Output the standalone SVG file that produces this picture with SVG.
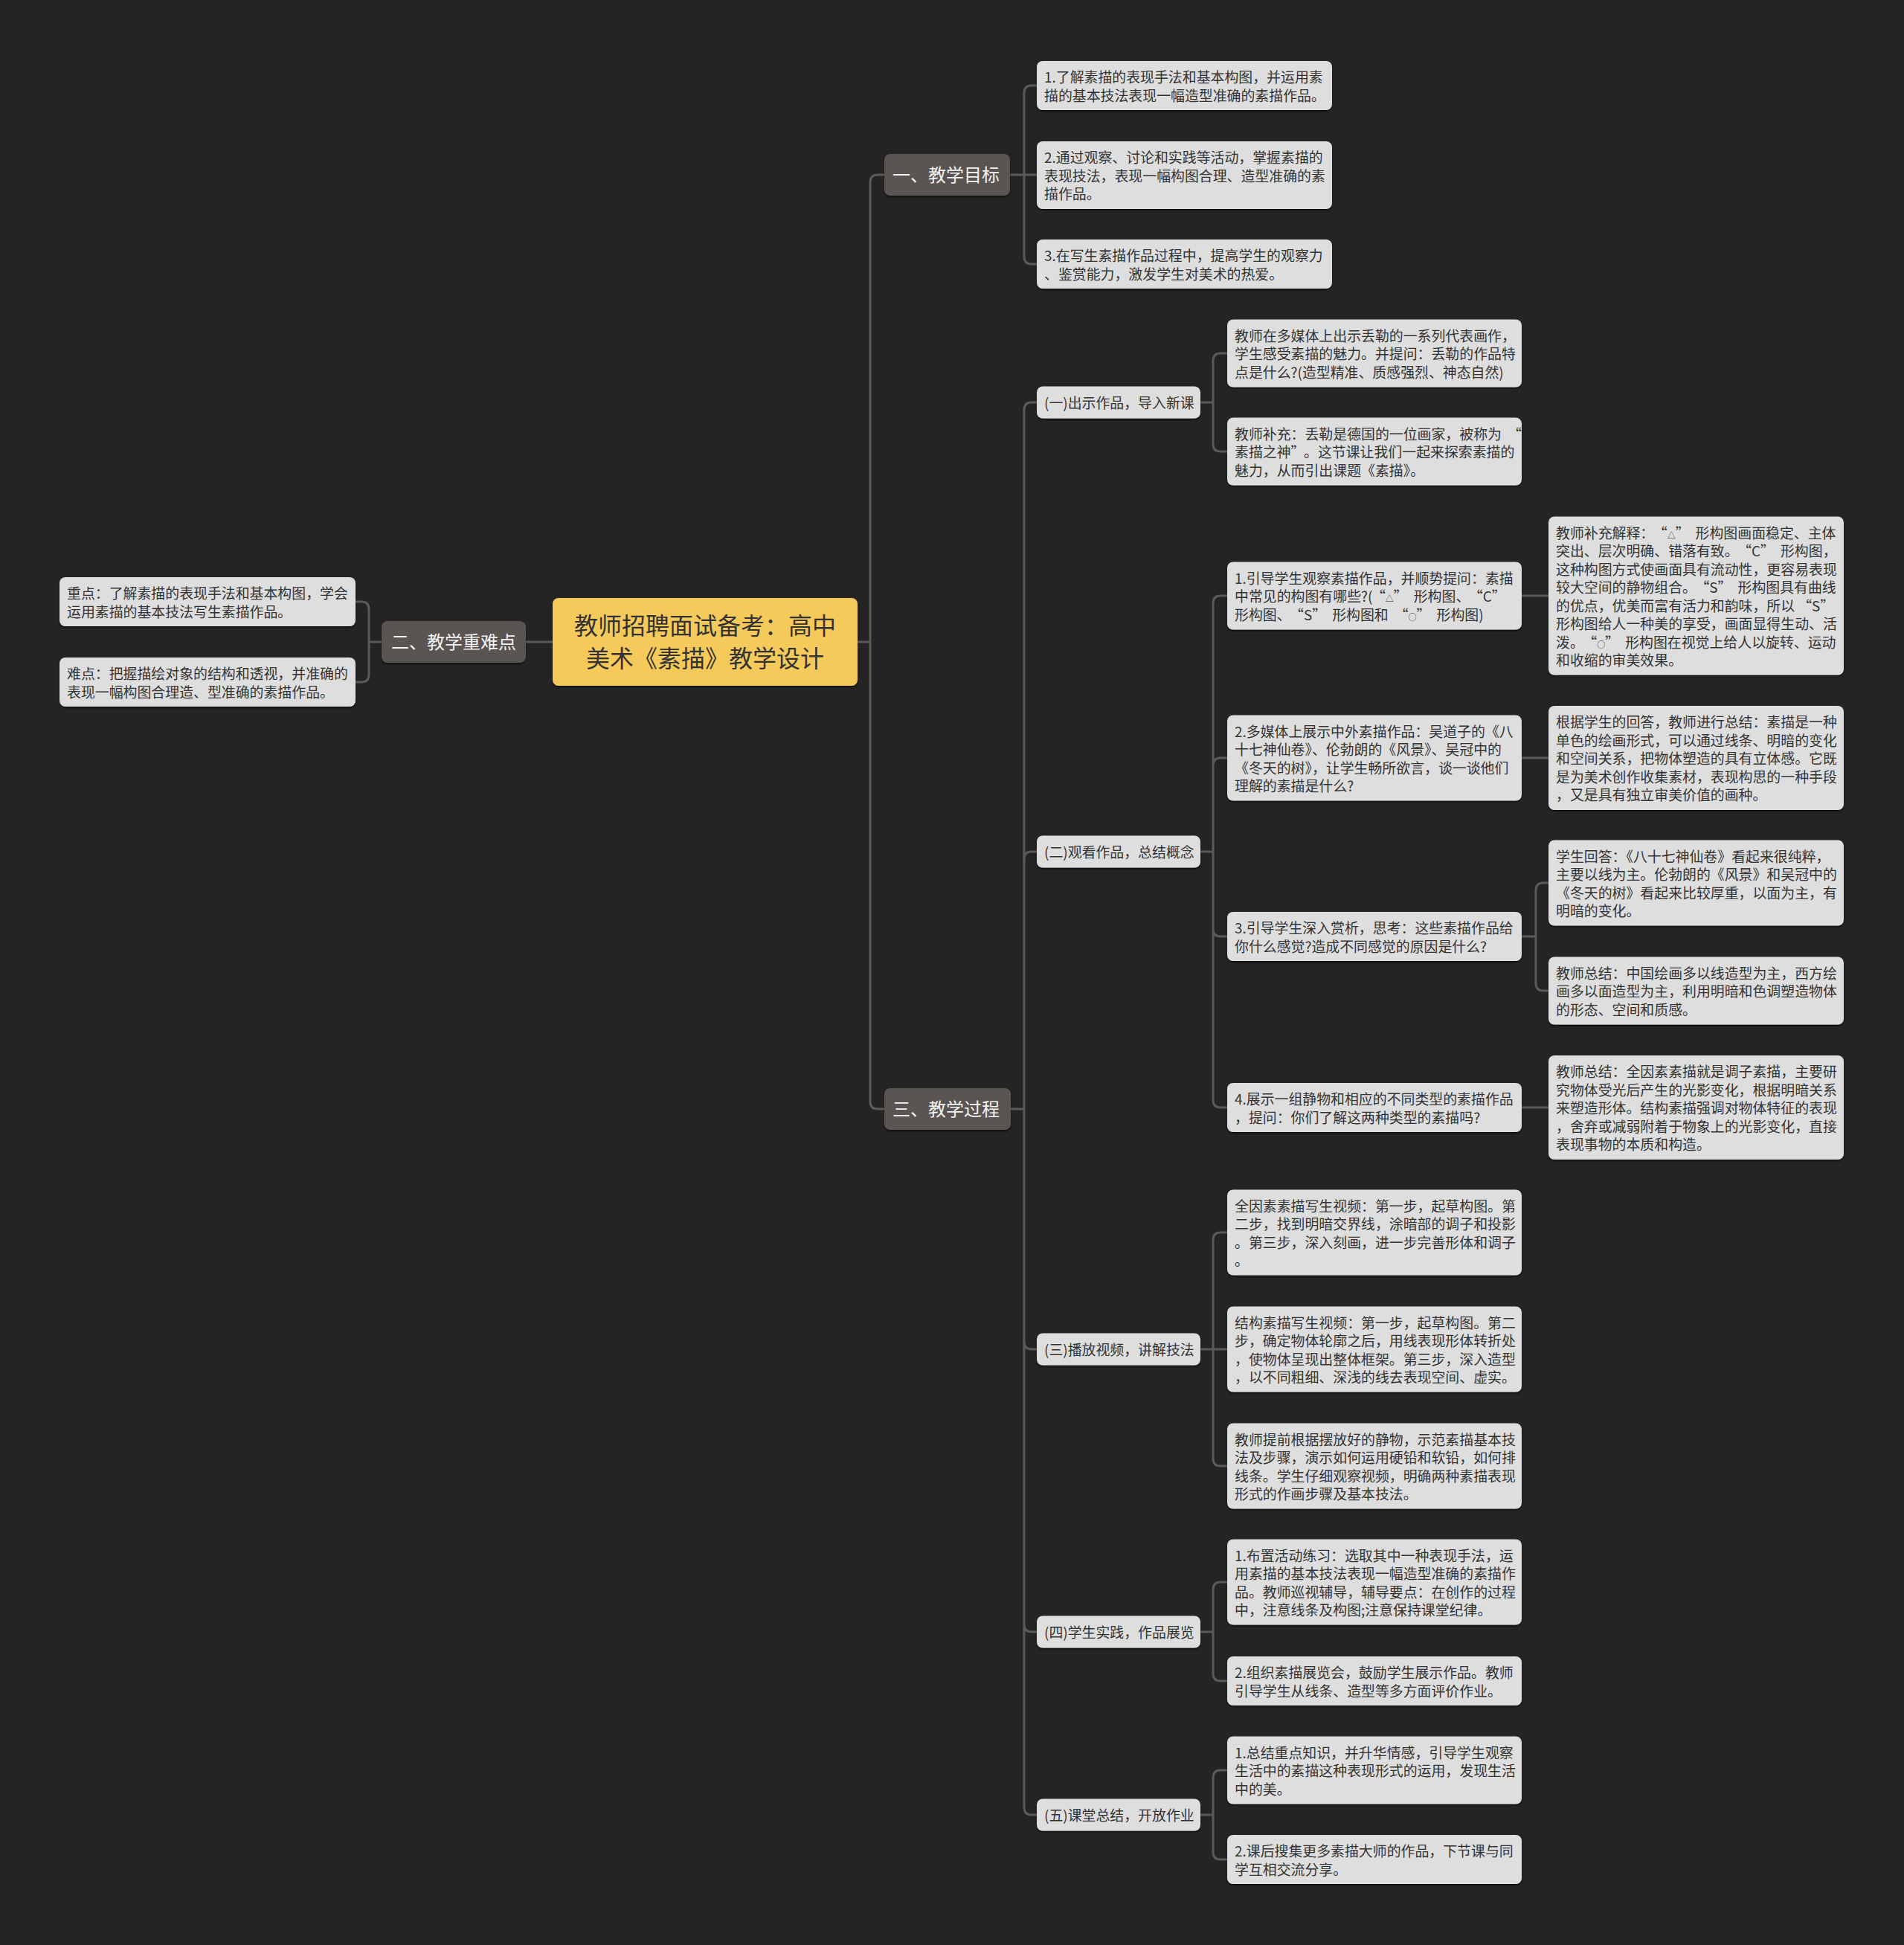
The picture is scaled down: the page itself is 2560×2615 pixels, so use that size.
<svg xmlns="http://www.w3.org/2000/svg" width="2560" height="2615" viewBox="0 0 2560 2615">
<defs>
<style>
.c{fill:none;stroke:#5c5a58;stroke-width:3;stroke-linecap:round}
.n{fill:#dedede}
.l1{fill:#5a5552}
.root{fill:#f5c95a}
.t{font-family:"Noto Sans CJK SC","Noto Sans",sans-serif;font-size:18.9px;fill:#333}
.t1{font-family:"Noto Sans CJK SC","Noto Sans",sans-serif;font-size:24px;fill:#f2f2f2}
.tr{font-family:"Noto Sans CJK SC","Noto Sans",sans-serif;font-size:32px;fill:#333;text-anchor:middle}
.sm{font-size:11px}
</style>
<filter id="sh" x="-5%" y="-10%" width="110%" height="130%"><feDropShadow dx="0" dy="2" stdDeviation="1.2" flood-color="#000" flood-opacity="0.55"/></filter>
</defs>
<rect x="0" y="0" width="2560" height="2615" fill="#242424"/>

<g id="connectors">
<path class="c" d="M743,863 H707"/>
<path class="c" d="M513,863 H496 M496,863 V819 Q496,809 486,809 H478 M496,863 V907 Q496,917 486,917 H478"/>
<path class="c" d="M1153,863 H1170 M1170,863 V245 Q1170,235 1180,235 H1189 M1170,863 V1481 Q1170,1491 1180,1491 H1189"/>
<path class="c" d="M1358,235 H1394 M1377,235 V125 Q1377,115 1387,115 H1394 M1377,235 V345 Q1377,355 1387,355 H1394"/>
<path class="c" d="M1359,1491 H1377 M1377,1491 V551 Q1377,541 1387,541 H1394 M1377,1491 V1155 Q1377,1145 1387,1145 H1394 M1377,1491 V1804 Q1377,1814 1387,1814 H1394 M1377,1491 V2184 Q1377,2194 1387,2194 H1394 M1377,1491 V2430 Q1377,2440 1387,2440 H1394"/>
<path class="c" d="M1614,541 H1631 M1631,541 V485 Q1631,475 1641,475 H1650 M1631,541 V597 Q1631,607 1641,607 H1650"/>
<path class="c" d="M1614,1145 H1631 M1631,1145 V811 Q1631,801 1641,801 H1650 M1631,1145 V1029 Q1631,1019 1641,1019 H1650 M1631,1145 V1249 Q1631,1259 1641,1259 H1650 M1631,1145 V1479 Q1631,1489 1641,1489 H1650"/>
<path class="c" d="M2046,801 H2082 M2046,1019 H2082 M2046,1489 H2082"/>
<path class="c" d="M2046,1259 H2065 M2065,1259 V1197 Q2065,1187 2075,1187 H2082 M2065,1259 V1322 Q2065,1332 2075,1332 H2082"/>
<path class="c" d="M1614,1814 H1650 M1631,1814 V1667 Q1631,1657 1641,1657 H1650 M1631,1814 V1961 Q1631,1971 1641,1971 H1650"/>
<path class="c" d="M1614,2194 H1631 M1631,2194 V2137 Q1631,2127 1641,2127 H1650 M1631,2194 V2250 Q1631,2260 1641,2260 H1650"/>
<path class="c" d="M1614,2440 H1631 M1631,2440 V2390 Q1631,2380 1641,2380 H1650 M1631,2440 V2490 Q1631,2500 1641,2500 H1650"/>
</g>

<g id="root"><rect class="root" x="743" y="804" width="410" height="118" rx="8" filter="url(#sh)"/>
<text class="tr"><tspan x="948" y="853">教师招聘面试备考：高中</tspan><tspan x="948" y="897">美术《素描》教学设计</tspan></text></g>

<g id="n2"><rect class="l1" x="513" y="835" width="194" height="56" rx="8" filter="url(#sh)"/><text class="t1" x="526" y="872">二、教学重难点</text></g>
<g id="n2a"><rect class="n" x="80" y="776" width="398" height="66" rx="8" filter="url(#sh)"/>
<text class="t"><tspan x="90" y="805">重点：了解素描的表现手法和基本构图，学会</tspan><tspan x="90" y="829.5">运用素描的基本技法写生素描作品。</tspan></text></g>
<g id="n2b"><rect class="n" x="80" y="884" width="398" height="66" rx="8" filter="url(#sh)"/>
<text class="t"><tspan x="90" y="913">难点：把握描绘对象的结构和透视，并准确的</tspan><tspan x="90" y="937.5">表现一幅构图合理造、型准确的素描作品。</tspan></text></g>

<g id="n1"><rect class="l1" x="1189" y="207" width="169" height="56" rx="8" filter="url(#sh)"/><text class="t1" x="1200" y="244">一、教学目标</text></g>
<g id="n1a"><rect class="n" x="1394" y="82" width="397" height="66" rx="8" filter="url(#sh)"/>
<text class="t"><tspan x="1404" y="111">1.了解素描的表现手法和基本构图，并运用素</tspan><tspan x="1404" y="135.5">描的基本技法表现一幅造型准确的素描作品。</tspan></text></g>
<g id="n1b"><rect class="n" x="1394" y="190" width="397" height="91" rx="8" filter="url(#sh)"/>
<text class="t"><tspan x="1404" y="219">2.通过观察、讨论和实践等活动，掌握素描的</tspan><tspan x="1404" y="243.5">表现技法，表现一幅构图合理、造型准确的素</tspan><tspan x="1404" y="268">描作品。</tspan></text></g>
<g id="n1c"><rect class="n" x="1394" y="322" width="397" height="66" rx="8" filter="url(#sh)"/>
<text class="t"><tspan x="1404" y="351">3.在写生素描作品过程中，提高学生的观察力</tspan><tspan x="1404" y="375.5">、鉴赏能力，激发学生对美术的热爱。</tspan></text></g>

<g id="n3"><rect class="l1" x="1189" y="1463" width="170" height="56" rx="8" filter="url(#sh)"/><text class="t1" x="1200" y="1500">三、教学过程</text></g>

<g id="s1"><rect class="n" x="1394" y="519.5" width="220" height="43" rx="8" filter="url(#sh)"/><text class="t" x="1404" y="548.5">(一)出示作品，导入新课</text></g>
<g id="s1a"><rect class="n" x="1650" y="429.5" width="396" height="91" rx="8" filter="url(#sh)"/>
<text class="t"><tspan x="1660" y="458.5">教师在多媒体上出示丢勒的一系列代表画作，</tspan><tspan x="1660" y="483">学生感受素描的魅力。并提问：丢勒的作品特</tspan><tspan x="1660" y="507.5">点是什么?(造型精准、质感强烈、神态自然)</tspan></text></g>
<g id="s1b"><rect class="n" x="1650" y="561.5" width="396" height="91" rx="8" filter="url(#sh)"/>
<text class="t"><tspan x="1660" y="590.5">教师补充：丢勒是德国的一位画家，被称为<tspan dx="8">“</tspan></tspan><tspan x="1660" y="615">素描之神”<tspan dx="8">。这节课让我们一起来探索素描的</tspan></tspan><tspan x="1660" y="639.5">魅力，从而引出课题《素描》。</tspan></text></g>

<g id="s2"><rect class="n" x="1394" y="1123.5" width="220" height="43" rx="8" filter="url(#sh)"/><text class="t" x="1404" y="1152.5">(二)观看作品，总结概念</text></g>
<g id="s2a"><rect class="n" x="1650" y="755.5" width="396" height="91" rx="8" filter="url(#sh)"/>
<text class="t"><tspan x="1660" y="784.5">1.引导学生观察素描作品，并顺势提问：素描</tspan><tspan x="1660" y="809">中常见的构图有哪些?(<tspan dx="8">“</tspan><tspan class="sm">△</tspan>”<tspan dx="8">形构图、</tspan><tspan dx="8">“C”</tspan></tspan><tspan x="1660" y="833.5">形构图、<tspan dx="8">“S”</tspan><tspan dx="8">形构图和</tspan><tspan dx="8">“</tspan><tspan class="sm">○</tspan>”<tspan dx="8">形构图)</tspan></tspan></text></g>
<g id="s2a1"><rect class="n" x="2082" y="694.5" width="397" height="213" rx="8" filter="url(#sh)"/>
<text class="t"><tspan x="2092" y="723.5">教师补充解释：<tspan dx="8">“</tspan><tspan class="sm">△</tspan>”<tspan dx="8">形构图画面稳定、主体</tspan></tspan><tspan x="2092" y="748">突出、层次明确、错落有致。<tspan dx="8">“C”</tspan><tspan dx="8">形构图，</tspan></tspan><tspan x="2092" y="772.5">这种构图方式使画面具有流动性，更容易表现</tspan><tspan x="2092" y="797">较大空间的静物组合。<tspan dx="8">“S”</tspan><tspan dx="8">形构图具有曲线</tspan></tspan><tspan x="2092" y="821.5">的优点，优美而富有活力和韵味，所以<tspan dx="4">“S”</tspan></tspan><tspan x="2092" y="846">形构图给人一种美的享受，画面显得生动、活</tspan><tspan x="2092" y="870.5">泼。<tspan dx="8">“</tspan><tspan class="sm">○</tspan>”<tspan dx="8">形构图在视觉上给人以旋转、运动</tspan></tspan><tspan x="2092" y="895">和收缩的审美效果。</tspan></text></g>
<g id="s2b"><rect class="n" x="1650" y="961.5" width="396" height="115" rx="8" filter="url(#sh)"/>
<text class="t"><tspan x="1660" y="990.5">2.多媒体上展示中外素描作品：吴道子的《八</tspan><tspan x="1660" y="1015">十七神仙卷》、伦勃朗的《风景》、吴冠中的</tspan><tspan x="1660" y="1039.5">《冬天的树》，让学生畅所欲言，谈一谈他们</tspan><tspan x="1660" y="1064">理解的素描是什么?</tspan></text></g>
<g id="s2b1"><rect class="n" x="2082" y="949" width="397" height="140" rx="8" filter="url(#sh)"/>
<text class="t"><tspan x="2092" y="978">根据学生的回答，教师进行总结：素描是一种</tspan><tspan x="2092" y="1002.5">单色的绘画形式，可以通过线条、明暗的变化</tspan><tspan x="2092" y="1027">和空间关系，把物体塑造的具有立体感。它既</tspan><tspan x="2092" y="1051.5">是为美术创作收集素材，表现构思的一种手段</tspan><tspan x="2092" y="1076">，又是具有独立审美价值的画种。</tspan></text></g>
<g id="s2c"><rect class="n" x="1650" y="1226" width="396" height="66" rx="8" filter="url(#sh)"/>
<text class="t"><tspan x="1660" y="1255">3.引导学生深入赏析，思考：这些素描作品给</tspan><tspan x="1660" y="1279.5">你什么感觉?造成不同感觉的原因是什么?</tspan></text></g>
<g id="s2c1"><rect class="n" x="2082" y="1129.5" width="397" height="115" rx="8" filter="url(#sh)"/>
<text class="t"><tspan x="2092" y="1158.5">学生回答：《八十七神仙卷》看起来很纯粹，</tspan><tspan x="2092" y="1183">主要以线为主。伦勃朗的《风景》和吴冠中的</tspan><tspan x="2092" y="1207.5">《冬天的树》看起来比较厚重，以面为主，有</tspan><tspan x="2092" y="1232">明暗的变化。</tspan></text></g>
<g id="s2c2"><rect class="n" x="2082" y="1286.5" width="397" height="91" rx="8" filter="url(#sh)"/>
<text class="t"><tspan x="2092" y="1315.5">教师总结：中国绘画多以线造型为主，西方绘</tspan><tspan x="2092" y="1340">画多以面造型为主，利用明暗和色调塑造物体</tspan><tspan x="2092" y="1364.5">的形态、空间和质感。</tspan></text></g>
<g id="s2d"><rect class="n" x="1650" y="1456" width="396" height="66" rx="8" filter="url(#sh)"/>
<text class="t"><tspan x="1660" y="1485">4.展示一组静物和相应的不同类型的素描作品</tspan><tspan x="1660" y="1509.5">，提问：你们了解这两种类型的素描吗?</tspan></text></g>
<g id="s2d1"><rect class="n" x="2082" y="1419" width="397" height="140" rx="8" filter="url(#sh)"/>
<text class="t"><tspan x="2092" y="1448">教师总结：全因素素描就是调子素描，主要研</tspan><tspan x="2092" y="1472.5">究物体受光后产生的光影变化，根据明暗关系</tspan><tspan x="2092" y="1497">来塑造形体。结构素描强调对物体特征的表现</tspan><tspan x="2092" y="1521.5">，舍弃或减弱附着于物象上的光影变化，直接</tspan><tspan x="2092" y="1546">表现事物的本质和构造。</tspan></text></g>

<g id="s3"><rect class="n" x="1394" y="1792.5" width="220" height="43" rx="8" filter="url(#sh)"/><text class="t" x="1404" y="1821.5">(三)播放视频，讲解技法</text></g>
<g id="s3a"><rect class="n" x="1650" y="1599.5" width="396" height="115" rx="8" filter="url(#sh)"/>
<text class="t"><tspan x="1660" y="1628.5">全因素素描写生视频：第一步，起草构图。第</tspan><tspan x="1660" y="1653">二步，找到明暗交界线，涂暗部的调子和投影</tspan><tspan x="1660" y="1677.5">。第三步，深入刻画，进一步完善形体和调子</tspan><tspan x="1660" y="1702">。</tspan></text></g>
<g id="s3b"><rect class="n" x="1650" y="1756.5" width="396" height="115" rx="8" filter="url(#sh)"/>
<text class="t"><tspan x="1660" y="1785.5">结构素描写生视频：第一步，起草构图。第二</tspan><tspan x="1660" y="1810">步，确定物体轮廓之后，用线表现形体转折处</tspan><tspan x="1660" y="1834.5">，使物体呈现出整体框架。第三步，深入造型</tspan><tspan x="1660" y="1859">，以不同粗细、深浅的线去表现空间、虚实。</tspan></text></g>
<g id="s3c"><rect class="n" x="1650" y="1913.5" width="396" height="115" rx="8" filter="url(#sh)"/>
<text class="t"><tspan x="1660" y="1942.5">教师提前根据摆放好的静物，示范素描基本技</tspan><tspan x="1660" y="1967">法及步骤，演示如何运用硬铅和软铅，如何排</tspan><tspan x="1660" y="1991.5">线条。学生仔细观察视频，明确两种素描表现</tspan><tspan x="1660" y="2016">形式的作画步骤及基本技法。</tspan></text></g>

<g id="s4"><rect class="n" x="1394" y="2172.5" width="220" height="43" rx="8" filter="url(#sh)"/><text class="t" x="1404" y="2201.5">(四)学生实践，作品展览</text></g>
<g id="s4a"><rect class="n" x="1650" y="2069.5" width="396" height="115" rx="8" filter="url(#sh)"/>
<text class="t"><tspan x="1660" y="2098.5">1.布置活动练习：选取其中一种表现手法，运</tspan><tspan x="1660" y="2123">用素描的基本技法表现一幅造型准确的素描作</tspan><tspan x="1660" y="2147.5">品。教师巡视辅导，辅导要点：在创作的过程</tspan><tspan x="1660" y="2172">中，注意线条及构图;注意保持课堂纪律。</tspan></text></g>
<g id="s4b"><rect class="n" x="1650" y="2227" width="396" height="66" rx="8" filter="url(#sh)"/>
<text class="t"><tspan x="1660" y="2256">2.组织素描展览会，鼓励学生展示作品。教师</tspan><tspan x="1660" y="2280.5">引导学生从线条、造型等多方面评价作业。</tspan></text></g>

<g id="s5"><rect class="n" x="1394" y="2418.5" width="220" height="43" rx="8" filter="url(#sh)"/><text class="t" x="1404" y="2447.5">(五)课堂总结，开放作业</text></g>
<g id="s5a"><rect class="n" x="1650" y="2334.5" width="396" height="91" rx="8" filter="url(#sh)"/>
<text class="t"><tspan x="1660" y="2363.5">1.总结重点知识，并升华情感，引导学生观察</tspan><tspan x="1660" y="2388">生活中的素描这种表现形式的运用，发现生活</tspan><tspan x="1660" y="2412.5">中的美。</tspan></text></g>
<g id="s5b"><rect class="n" x="1650" y="2467" width="396" height="66" rx="8" filter="url(#sh)"/>
<text class="t"><tspan x="1660" y="2496">2.课后搜集更多素描大师的作品，下节课与同</tspan><tspan x="1660" y="2520.5">学互相交流分享。</tspan></text></g>
</svg>
